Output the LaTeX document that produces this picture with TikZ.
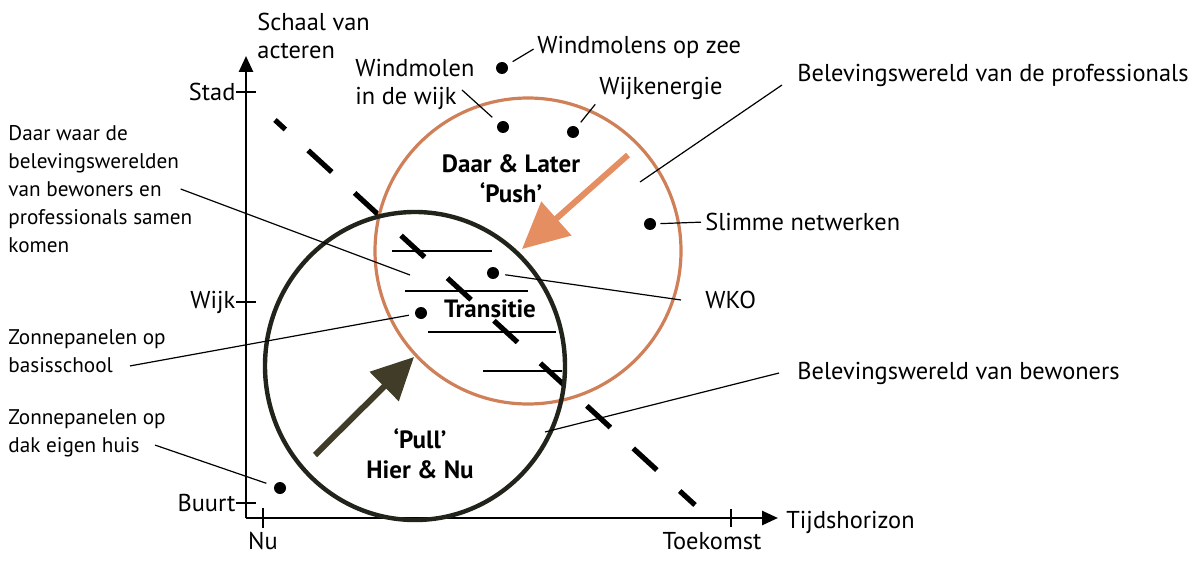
\documentclass[tikz,border=0pt]{standalone}
\usepackage{fontspec}
\setmainfont{PT Sans}
\usetikzlibrary{arrows.meta}
\definecolor{profcol}{RGB}{208,128,88}
\definecolor{pushcol}{RGB}{228,142,98}
\definecolor{pullcol}{RGB}{64,60,40}
\definecolor{bewcol}{RGB}{32,36,26}

\begin{document}
\begin{tikzpicture}[
    x		= 0.5pt,
    y		= -0.5pt,
    >={Triangle[length=8pt,width=7pt]},
    dot/.style	= {circle, fill=black, inner sep=0pt, minimum size=6pt},
    lbl/.style	= {font=\fontsize{12.2}{14}\selectfont, inner sep=0pt, align=left},
    lbls/.style	= {font=\fontsize{10.6}{14}\selectfont, inner sep=0pt, align=left},
    kop/.style	= {font=\fontsize{12.5}{15}\selectfont\bfseries, inner sep=0pt, align=center},
    leader/.style = {line width=0.6pt},
    tickline/.style = {line width=0.6pt}
  ]
\useasboundingbox (0,0) rectangle (1198,561);
% axes
\coordinate (O) at (246,518);
\coordinate (ytop) at (246,56);
\coordinate (xend) at (778,518);
\draw[->, line width=1.3pt] (O) -- (ytop);
\draw[->, line width=1.3pt] (O) -- (xend);
\node[lbl, anchor=west] (yas) at (257,36) {Schaal van\\acteren};
\node[lbl, anchor=west] (xas) at (786,522) {Tijdshorizon};
% ticks
\draw[tickline] (236,92) -- (256,92) node[lbl, anchor=east, at start] (stad) {Stad};
\draw[tickline] (236,302) -- (256,302) node[lbl, anchor=east, at start] (wijk) {Wijk};
\draw[tickline] (236,503) -- (256,503) node[lbl, anchor=east, at start] (buurt) {Buurt};
\draw[tickline] (263,508) -- (263,528) node[lbl, anchor=north, at end, yshift=-2pt] (nu) {Nu};
\draw[tickline] (731,509) -- (731,527);
\node[lbl, anchor=north] (toekomst) at (712,532) {Toekomst};
% diagonal
\draw[line width=2.6pt, dash pattern=on 16pt off 15.5pt, dash phase=9pt] (275,120) -- (695,505);
% belevingswerelden
\draw[profcol, line width=1.6pt] (528,251) circle[radius=153];
\draw[bewcol, line width=2.2pt] (415,366) ellipse[x radius=150, y radius=154];
% transitie zone
\draw[leader] (392,251) -- (492,251);
\draw[leader] (405,291) -- (528,291);
\draw[leader] (428,332) -- (556,332);
\draw[leader] (483,371) -- (562,371);
% push and pull
\draw[-{Triangle[length=23pt,width=22pt]}, pushcol, line width=3pt] (628,155) -- (522,249);
\draw[-{Triangle[length=21pt,width=20pt]}, pullcol, line width=3pt] (315,455) -- (414,357);
\node[kop] (daar) at (511,179) {Daar \& Later\\‘Push’};
\node[kop] (hier) at (420,454) {‘Pull’\\Hier \& Nu};
\node[kop] (transitie) at (490,309) {Transitie};
% dots
\node[dot] (zee) at (502,68) {};
\node[dot] (wijkmolen) at (503,127) {};
\node[dot] (wijkenergie) at (573,132) {};
\node[dot] (slim) at (650,224) {};
\node[dot] (wko) at (493,273) {};
\node[dot] (basis) at (421,313) {};
\node[dot] (dak) at (280,488) {};
% labels
\node[lbl, anchor=west] (zeelbl) at (537,47) {Windmolens op zee};
\node[lbl, anchor=west] (wijkmolenlbl) at (355,84) {Windmolen\\in de wijk};
\node[lbl, anchor=west] (wijkenergielbl) at (599,88) {Wijkenergie};
\node[lbl, anchor=west] (proflbl) at (797,75) {Belevingswereld van de professionals};
\node[lbl, anchor=west] (slimlbl) at (705,222) {Slimme netwerken};
\node[lbl, anchor=west] (wkolbl) at (705,300) {WKO};
\node[lbl, anchor=west] (bewlbl) at (797,373) {Belevingswereld van bewoners};
\node[lbls, anchor=west] (daarlbl) at (8,189) {Daar waar de\\belevingswerelden\\van bewoners en\\professionals samen\\komen};
\node[lbls, anchor=west] (basislbl) at (8,351) {Zonnepanelen op\\basisschool};
\node[lbls, anchor=west] (daklbl) at (8,433) {Zonnepanelen op\\dak eigen huis};
% leaders
\coordinate (wijkmolenpt) at (462,90);
\coordinate (profpt) at (640,182);
\coordinate (bewpt) at (545,432);
\coordinate (lenspt) at (410,275);
\draw[leader, shorten <=3pt, shorten >=2pt] (zee) -- (zeelbl.west);
\draw[leader, shorten <=4pt] (wijkmolen) -- (wijkmolenpt);
\draw[leader, shorten <=3pt, shorten >=3pt] (wijkenergie) -- (wijkenergielbl.south west);
\draw[leader] (profpt) -- ([shift={(-15,10)}]proflbl.west);
\draw[leader, shorten <=2pt, shorten >=2pt] (slim) -- (slimlbl.west);
\draw[leader, shorten <=3pt] (wko) -- ([xshift=-12pt]wkolbl.west);
\draw[leader] (bewpt) -- ([xshift=-9pt]bewlbl.west);
\draw[leader] (lenspt) -- ([shift={(-12,0)}]daarlbl.east);
\draw[leader, shorten <=3pt] (basis) -- ([shift={(122,-7)}]basislbl.south west);
\draw[leader, shorten <=4pt] (dak) -- ([shift={(147,-12)}]daklbl.south west);
%
\end{tikzpicture}
\end{document}
